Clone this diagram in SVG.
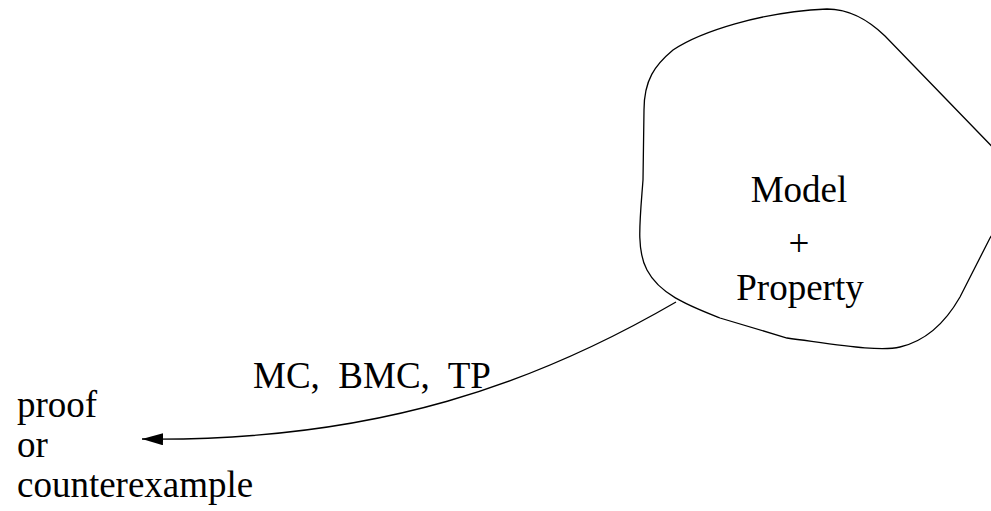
<svg xmlns="http://www.w3.org/2000/svg" width="991" height="511" viewBox="0 0 991 511">
  <style>
    .lbl { font-family: "Liberation Serif", "Times New Roman", serif; font-size: 37px; fill: #000; }
    .line { fill: none; stroke: #000; stroke-width: 1.3; }
  </style>
  <defs>
    <marker id="arrow" markerWidth="21" markerHeight="12" refX="21" refY="6" orient="auto" markerUnits="userSpaceOnUse">
      <path d="M0,0 L21,6 L0,12 Z" fill="#000"/>
    </marker>
  </defs>
  <rect width="991" height="511" fill="#fff"/>

  <!-- blob containing model and property -->
  <g id="model-property">
    <path class="line" d="M827,9 C850,9 868,20 885,36 L1005,160 L1005,215 L990,238 L960,297 C948,318 930,340 900,347 C880,352 840,345 787,338 L720,318 C690,306 660,295 647,270 C636,250 640,220 643,180 L644,110 C644,80 655,65 673,50 C700,32 760,12 827,9 Z"/>
    <text class="lbl" x="799" y="202" text-anchor="middle">Model</text>
    <text class="lbl" x="799" y="256" text-anchor="middle">+</text>
    <text class="lbl" x="800" y="300" text-anchor="middle">Property</text>
  </g>

  <!-- result node -->
  <g id="result">
    <text class="lbl" x="17" y="417">proof</text>
    <text class="lbl" x="17" y="457">or</text>
    <text class="lbl" x="17" y="497">counterexample</text>
  </g>

  <!-- connectors -->
  <g id="connectors">
    <path class="line" d="M676,302 C540,381 380,442 142,439" marker-end="url(#arrow)"/>
    <text class="lbl" x="253" y="388" xml:space="preserve">MC,  BMC,  TP</text>
  </g>
</svg>
